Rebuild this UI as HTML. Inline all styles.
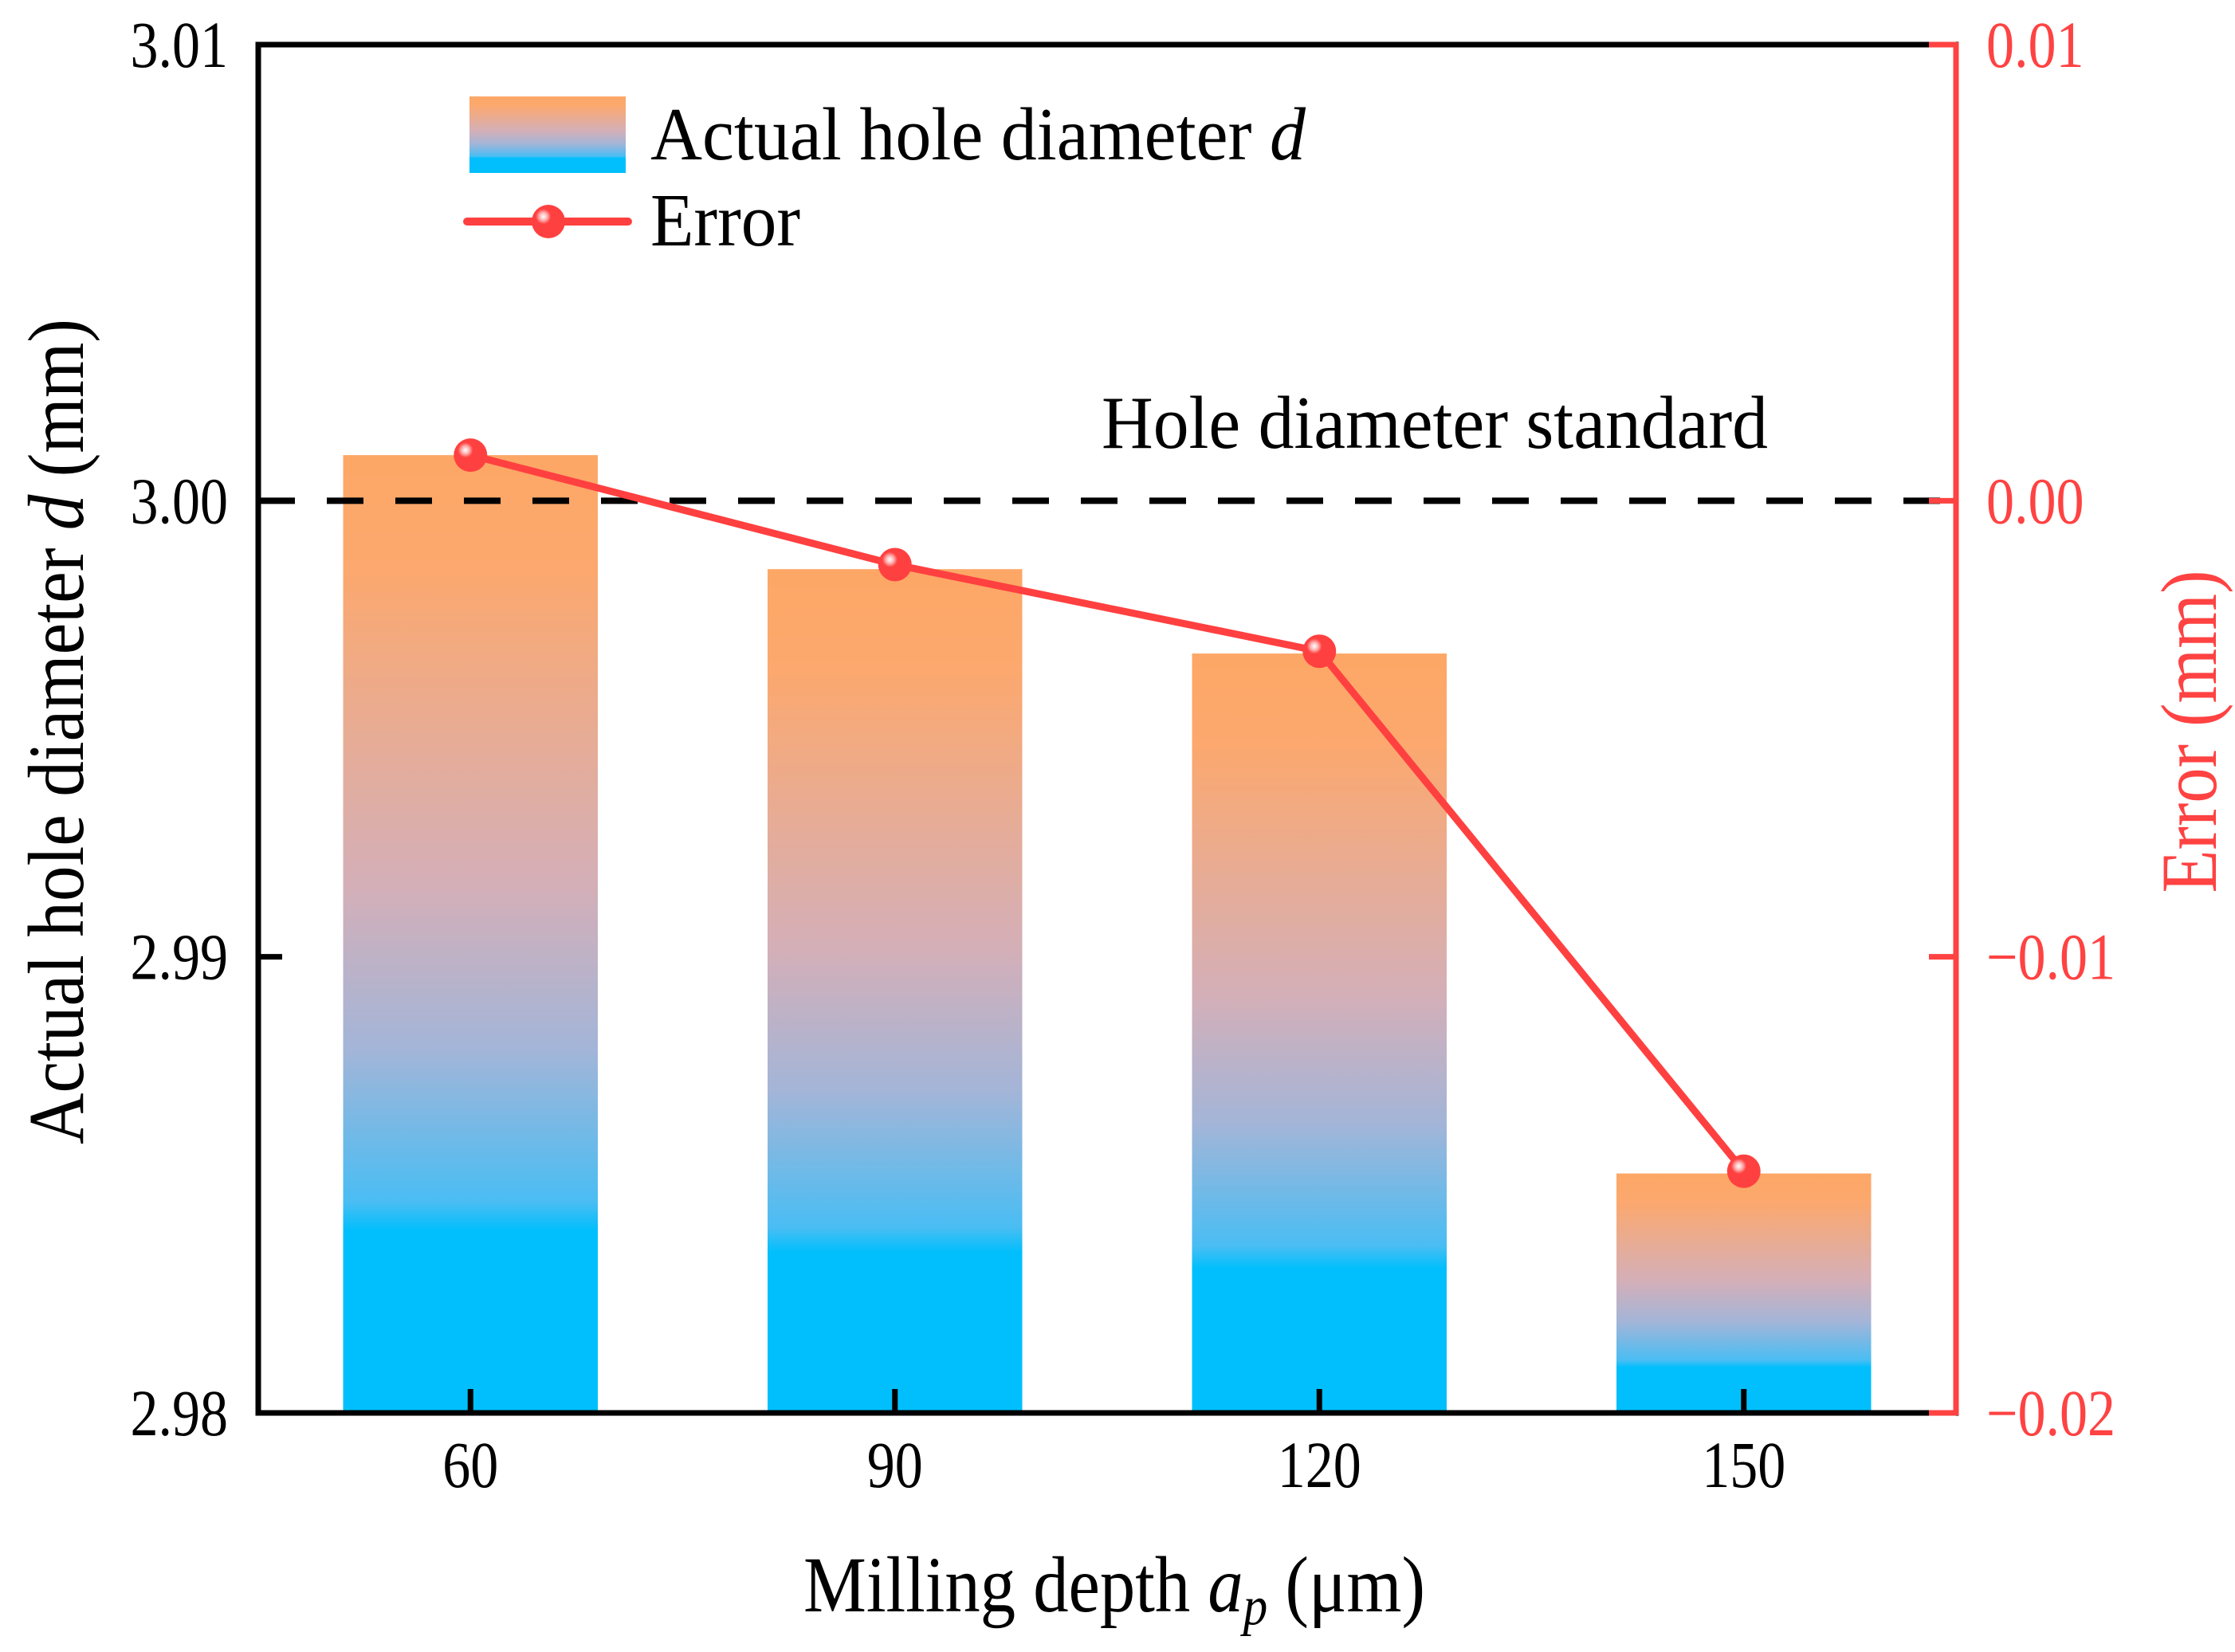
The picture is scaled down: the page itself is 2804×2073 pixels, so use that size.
<!DOCTYPE html>
<html><head><meta charset="utf-8"><style>
html,body{margin:0;padding:0;background:#fff;}
svg{display:block;font-family:"Liberation Serif",serif;}
</style></head><body>
<svg id="chart" width="2804" height="2073" viewBox="0 0 2804 2073" xmlns="http://www.w3.org/2000/svg">
<defs>
<linearGradient id="barGrad" x1="0" y1="0" x2="0" y2="1">
<stop offset="0" stop-color="#FDA766"/>
<stop offset="0.12" stop-color="#FCA86E"/>
<stop offset="0.45" stop-color="#D4AFB8"/>
<stop offset="0.62" stop-color="#A3B5D8"/>
<stop offset="0.78" stop-color="#4ABDF3"/>
<stop offset="0.81" stop-color="#00BFFC"/>
<stop offset="1" stop-color="#00BFFC"/>
</linearGradient>
<radialGradient id="markGrad" cx="0.35" cy="0.35" r="0.65">
<stop offset="0" stop-color="#FFFFFF"/>
<stop offset="0.18" stop-color="#FFB0B0"/>
<stop offset="0.35" stop-color="#FF4040"/>
<stop offset="1" stop-color="#FF4040"/>
</radialGradient>
</defs>
<g id="plot"></g>
</svg>
<script>
const categories = ["60", "90", "120", "150"];
const diameters = [3.001, 2.9985, 2.99665, 2.98525];
const errors = [0.001, -0.0014, -0.0033, -0.0147];
const leftTicks = [2.98, 2.99, 3.00, 3.01];
const leftTickLabels = ["2.98", "2.99", "3.00", "3.01"];
const rightTicks = [-0.02, -0.01, 0.00, 0.01];
const rightTickLabels = ["\u22120.02", "\u22120.01", "0.00", "0.01"];
const standardValue = 3.00;

const NS = "http://www.w3.org/2000/svg";
const X0 = 324, X1 = 2454, YT = 56, YB = 1773;
const SY = 1.18;
function yLeft(v){ return YB - (v - 2.98) / (3.01 - 2.98) * (YB - YT); }
function yRight(v){ return YB - (v + 0.02) / (0.01 + 0.02) * (YB - YT); }
const band = (X1 - X0) / categories.length;
function xCenter(i){ return X0 + band * (i + 0.5); }
const g = document.getElementById("plot");
function mk(tag, attrs, parent){
  const e = document.createElementNS(NS, tag);
  for (const k in attrs) e.setAttribute(k, attrs[k]);
  (parent || g).appendChild(e);
  return e;
}
function txt(x, y, size, extra, rot){
  const a = Object.assign({x: 0, y: 0, "font-size": size, transform: `translate(${x},${y})${rot ? " rotate(-90)" : ""} scale(1,${SY})`}, extra || {});
  return mk("text", a);
}

diameters.forEach((v, i) => {
  const w = band * 0.6;
  const b = mk("rect", {x: xCenter(i) - w/2, y: yLeft(v), width: w, height: YB - yLeft(v), fill: "url(#barGrad)"});
  
  
});

const dl = mk("line", {x1: X0, x2: X1, y1: yLeft(standardValue), y2: yLeft(standardValue), stroke: "#000", "stroke-width": 8, "stroke-dasharray": "46 40"});


const st = txt(1382, 562, 80, {fill: "#000", textLength: 836, lengthAdjust: "spacingAndGlyphs"});
st.textContent = "Hole diameter standard";



const ax = mk("path", {d: `M${X0} ${YT} L${X0} ${YB} L${X1} ${YB} M${X0} ${YT} L${X1} ${YT}`, stroke: "#000", "stroke-width": 7, fill: "none", "stroke-linecap": "square"});


const rax = mk("line", {x1: X1, x2: X1, y1: YT - 3, y2: YB + 3, stroke: "#FF4242", "stroke-width": 7});



leftTicks.forEach((v, i) => {
  const y = yLeft(v);
  mk("line", {x1: X0, x2: X0 + 30, y1: y, y2: y, stroke: "#000", "stroke-width": 7});
  const t = txt(286, y + 28, 70, {"text-anchor": "end", fill: "#000"});
  t.textContent = leftTickLabels[i];
  
  
});
rightTicks.forEach((v, i) => {
  const y = yRight(v);
  mk("line", {x1: X1, x2: X1 - 34, y1: y, y2: y, stroke: "#FF4242", "stroke-width": 7});
  const t = txt(2492, y + 28, 70, {fill: "#FF4242"});
  t.textContent = rightTickLabels[i];
  
  
});
categories.forEach((c, i) => {
  const x = xCenter(i);
  mk("line", {x1: x, x2: x, y1: YB, y2: YB - 30, stroke: "#000", "stroke-width": 7});
  const t = txt(x, 1866, 70, {"text-anchor": "middle", fill: "#000"});
  t.textContent = c;
  
  
});

const pts = errors.map((v, i) => xCenter(i) + "," + yRight(v)).join(" ");
const pl = mk("polyline", {points: pts, fill: "none", stroke: "#FF4040", "stroke-width": 9, "stroke-linejoin": "round"});


errors.forEach((v, i) => {
  const c = mk("circle", {cx: xCenter(i), cy: yRight(v), r: 21, fill: "url(#markGrad)"});
  
  
});

const lr = mk("rect", {x: 589, y: 121, width: 196, height: 96, fill: "url(#barGrad)"});


const lt1 = txt(816, 200, 80, {fill: "#000", textLength: 822, lengthAdjust: "spacingAndGlyphs"});
lt1.innerHTML = 'Actual hole diameter <tspan font-style="italic">d</tspan>';


const ll = mk("line", {x1: 586, x2: 788, y1: 278, y2: 278, stroke: "#FF4040", "stroke-width": 10, "stroke-linecap": "round"});


mk("circle", {cx: 688, cy: 278, r: 21, fill: "url(#markGrad)"});
const lt2 = txt(816, 308, 80, {fill: "#000", textLength: 188, lengthAdjust: "spacingAndGlyphs"});
lt2.textContent = "Error";



const xt = txt(1398, 2022, 84, {"text-anchor": "middle", fill: "#000", textLength: 780, lengthAdjust: "spacingAndGlyphs"});
xt.innerHTML = 'Milling depth <tspan font-style="italic">a</tspan><tspan font-style="italic" font-size="58" dy="14">p</tspan><tspan dy="-14"> (\u03bcm)</tspan>';


const yt = txt(104, 918, 84, {"text-anchor": "middle", fill: "#000", textLength: 1036, lengthAdjust: "spacingAndGlyphs"}, true);
yt.innerHTML = 'Actual hole diameter <tspan font-style="italic">d</tspan> (mm)';


const ry = txt(2780, 918, 84, {"text-anchor": "middle", fill: "#FF4242", textLength: 405, lengthAdjust: "spacingAndGlyphs"}, true);
ry.textContent = "Error (mm)";


</script>
</body></html>
